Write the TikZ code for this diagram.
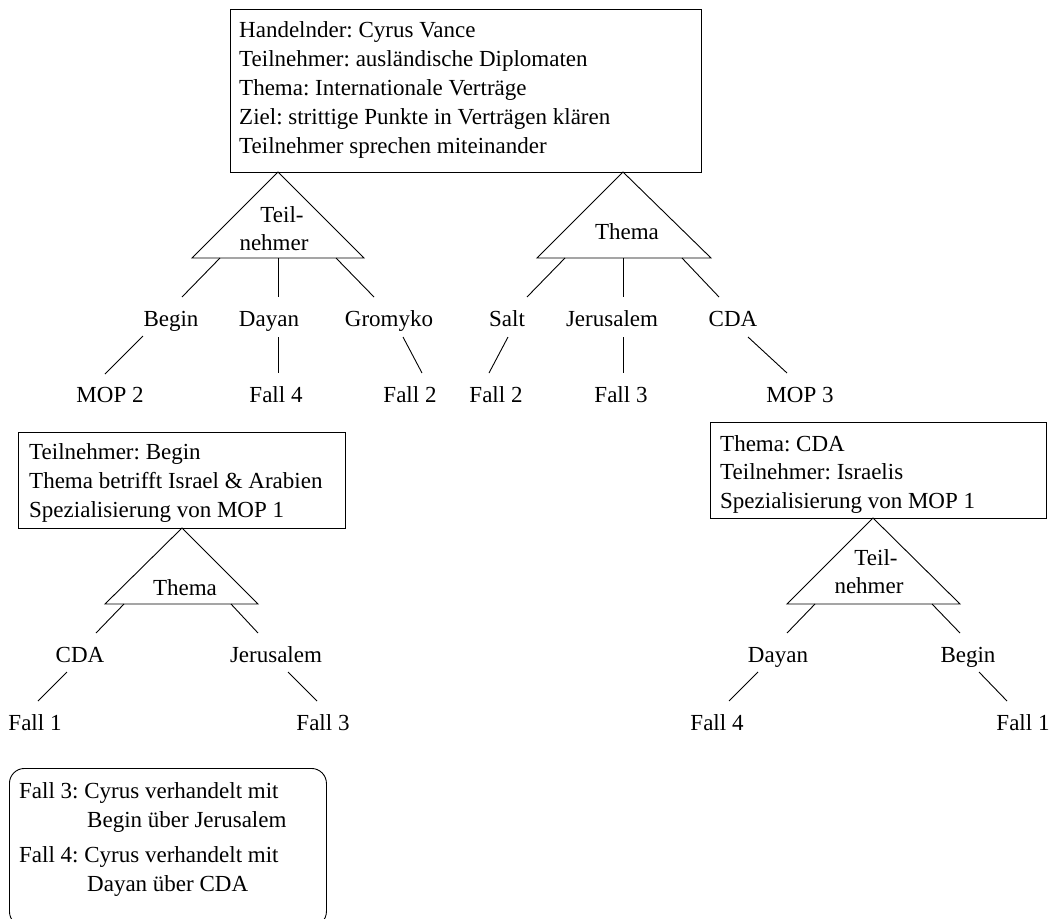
\documentclass[tikz,border=0pt]{standalone}
\usepackage{fontspec}
\setmainfont{Liberation Serif}
\frenchspacing
\begin{document}
\begin{tikzpicture}[x=1pt,y=-1pt,
  font=\fontsize{23}{29}\selectfont\frenchspacing,
  lab/.style={inner sep=0pt, anchor=base},
  txt/.style={inner sep=0pt, anchor=base west},
  frame/.style={draw, line width=0.9pt, inner sep=0pt, anchor=north west},
  edge/.style={line width=0.9pt}]
\clip (0,0) rectangle (1049,918);

% ---------- MOP 1 ----------
\node[frame, minimum width=471pt, minimum height=163pt] (mop1) at (230,9) {};
\node[txt] (m1a) at (239,37)  {Handelnder: Cyrus Vance};
\node[txt] (m1b) at (239,66)  {Teilnehmer: ausländische Diplomaten};
\node[txt] (m1c) at (239,95)  {Thema: Internationale Verträge};
\node[txt] (m1d) at (239,124) {Ziel: strittige Punkte in Verträgen klären};
\node[txt] (m1e) at (239,153) {Teilnehmer sprechen miteinander};

% index: Teilnehmer
\coordinate (t1a) at (278,172);
\coordinate (t1l) at (192,258);
\coordinate (t1r) at (364,258);
\draw[edge] (t1a) -- (t1l) -- (t1r) -- cycle;
\node[lab] (t1x) at (282,222) {Teil-};
\node[lab] (t1y) at (274,250) {nehmer};

\coordinate (t1p1) at (220,258); \coordinate (t1q1) at (182,297);
\coordinate (t1p2) at (278,258); \coordinate (t1q2) at (278,297);
\coordinate (t1p3) at (336,258); \coordinate (t1q3) at (374,297);
\draw[edge] (t1p1) -- (t1q1);
\draw[edge] (t1p2) -- (t1q2);
\draw[edge] (t1p3) -- (t1q3);
\node[lab] (begin1) at (171,326) {Begin};
\node[lab] (dayan1) at (269,326) {Dayan};
\node[lab] (gromyko) at (389,326) {Gromyko};

\coordinate (g1a) at (143,336); \coordinate (g1b) at (105,374);
\coordinate (g2a) at (278,337); \coordinate (g2b) at (278,373);
\coordinate (g3a) at (403,337); \coordinate (g3b) at (422,373);
\draw[edge] (g1a) -- (g1b);
\draw[edge] (g2a) -- (g2b);
\draw[edge] (g3a) -- (g3b);
\node[lab] (mop2lab) at (110,402) {MOP 2};
\node[lab] (fall4a) at (276,402) {Fall 4};
\node[lab] (fall2a) at (410,402) {Fall 2};

% index: Thema
\coordinate (t2a) at (623,172);
\coordinate (t2l) at (537,258);
\coordinate (t2r) at (711,258);
\draw[edge] (t2a) -- (t2l) -- (t2r) -- cycle;
\node[lab] (t2x) at (627,239) {Thema};

\coordinate (t2p1) at (565,258); \coordinate (t2q1) at (527,297);
\coordinate (t2p2) at (623,258); \coordinate (t2q2) at (623,297);
\coordinate (t2p3) at (682,258); \coordinate (t2q3) at (719,297);
\draw[edge] (t2p1) -- (t2q1);
\draw[edge] (t2p2) -- (t2q2);
\draw[edge] (t2p3) -- (t2q3);
\node[lab] (salt) at (507,326) {Salt};
\node[lab] (jer1) at (612,326) {Jerusalem};
\node[lab] (cda1) at (733,326) {CDA};

\coordinate (h1a) at (508,337); \coordinate (h1b) at (489,373);
\coordinate (h2a) at (623,337); \coordinate (h2b) at (623,373);
\coordinate (h3a) at (748,337); \coordinate (h3b) at (787,373);
\draw[edge] (h1a) -- (h1b);
\draw[edge] (h2a) -- (h2b);
\draw[edge] (h3a) -- (h3b);
\node[lab] (fall2b) at (496,402) {Fall 2};
\node[lab] (fall3a) at (621,402) {Fall 3};
\node[lab] (mop3lab) at (800,402) {MOP 3};

% ---------- MOP 2 ----------
\node[frame, minimum width=327pt, minimum height=96pt] (mop2) at (18,432) {};
\node[txt] (m2a) at (29,459) {Teilnehmer: Begin};
\node[txt] (m2b) at (29,488) {Thema betrifft Israel \& Arabien};
\node[txt] (m2c) at (29,517) {Spezialisierung von MOP 1};

\coordinate (t3a) at (182,528);
\coordinate (t3l) at (105,604);
\coordinate (t3r) at (258,604);
\draw[edge] (t3a) -- (t3l) -- (t3r) -- cycle;
\node[lab] (t3x) at (185,595) {Thema};

\coordinate (t3p1) at (124,604); \coordinate (t3q1) at (96,633);
\coordinate (t3p2) at (231,604); \coordinate (t3q2) at (258,633);
\draw[edge] (t3p1) -- (t3q1);
\draw[edge] (t3p2) -- (t3q2);
\node[lab] (cda2) at (80,662) {CDA};
\node[lab] (jer2) at (276,662) {Jerusalem};

\coordinate (k1a) at (67,672);  \coordinate (k1b) at (38,701);
\coordinate (k2a) at (288,672); \coordinate (k2b) at (317,701);
\draw[edge] (k1a) -- (k1b);
\draw[edge] (k2a) -- (k2b);
\node[lab] (fall1a) at (35,730) {Fall 1};
\node[lab] (fall3b) at (323,730) {Fall 3};

% ---------- MOP 3 ----------
\node[frame, minimum width=336pt, minimum height=96pt] (mop3) at (710,422) {};
\node[txt] (m3a) at (720,451) {Thema: CDA};
\node[txt] (m3b) at (720,479) {Teilnehmer: Israelis};
\node[txt] (m3c) at (720,508) {Spezialisierung von MOP 1};

\coordinate (t4a) at (873,518);
\coordinate (t4l) at (787,604);
\coordinate (t4r) at (960,604);
\draw[edge] (t4a) -- (t4l) -- (t4r) -- cycle;
\node[lab] (t4x) at (876,565) {Teil-};
\node[lab] (t4y) at (869,593) {nehmer};

\coordinate (t4p1) at (815,604); \coordinate (t4q1) at (787,633);
\coordinate (t4p2) at (932,604); \coordinate (t4q2) at (960,633);
\draw[edge] (t4p1) -- (t4q1);
\draw[edge] (t4p2) -- (t4q2);
\node[lab] (dayan2) at (778,662) {Dayan};
\node[lab] (begin2) at (968,662) {Begin};

\coordinate (n1a) at (758,672); \coordinate (n1b) at (729,701);
\coordinate (n2a) at (979,672); \coordinate (n2b) at (1007,701);
\draw[edge] (n1a) -- (n1b);
\draw[edge] (n2a) -- (n2b);
\node[lab] (fall4b) at (717,730) {Fall 4};
\node[lab] (fall1b) at (1023,730) {Fall 1};

% ---------- cases ----------
\node[frame, rounded corners=15pt, minimum width=317pt, minimum height=158pt] (cases) at (9,768) {};
\node[txt] (c1a) at (19,798) {Fall 3: Cyrus verhandelt mit};
\node[txt] (c1b) at (87,827) {Begin über Jerusalem};
\node[txt] (c2a) at (19,862) {Fall 4: Cyrus verhandelt mit};
\node[txt] (c2b) at (87,891) {Dayan über CDA};
\end{tikzpicture}
\end{document}
